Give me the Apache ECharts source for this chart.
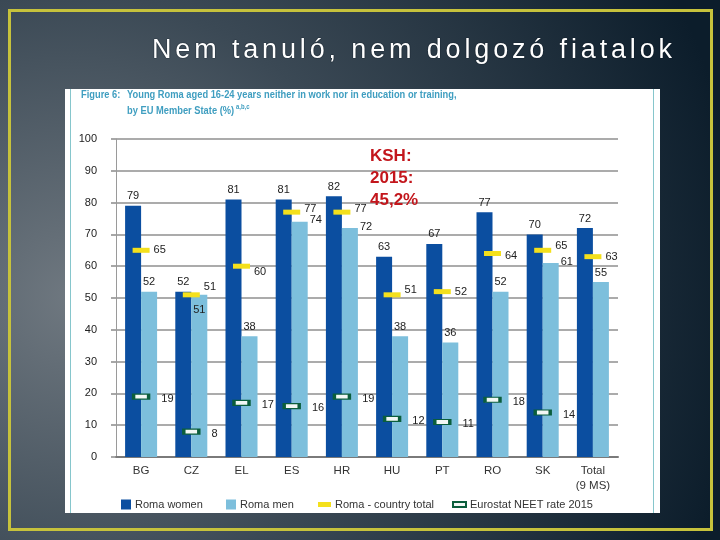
<!DOCTYPE html>
<html>
<head>
<meta charset="utf-8">
<script src="https://cdn.jsdelivr.net/npm/echarts@6/dist/echarts.min.js"></script>
<style>
html,body{margin:0;padding:0;background:#1a2a38;}
#wrap{position:relative;width:720px;height:540px;}
#chart{position:absolute;left:0;top:0;width:720px;height:540px;}
#title{position:absolute;left:0;top:29px;width:720px;height:40px;line-height:40px;white-space:nowrap;
  font-family:'Liberation Sans', Arial, sans-serif;font-size:27px;color:#ffffff;
  text-shadow:0 0 1px #0b1620, 0 0 1px #0b1620;}
</style>
</head>
<body>
<div id="wrap">
<div id="chart"></div>
<div id="title"></div>
</div>
<script>
// ---- data ----
const categories = ['BG', 'CZ', 'EL', 'ES', 'HR', 'HU', 'PT', 'RO', 'SK', 'Total\n(9 MS)'];
const romaWomen = [79, 52, 81, 81, 82, 63, 67, 77, 70, 72];
const romaMen = [52, 51, 38, 74, 72, 38, 36, 52, 61, 55];
const romaCountryTotal = [65, 51, 60, 77, 77, 51, 52, 64, 65, 63];
const eurostatNeet2015 = [19, 8, 17, 16, 19, 12, 11, 18, 14, null];
const seriesNames = ['Roma women', 'Roma men', 'Roma - country total', 'Eurostat NEET rate 2015'];
const slideTitle = 'Nem tanuló, nem dolgozó fiatalok';
const figureLabel = 'Figure 6:';
const figureTitle1 = 'Young Roma aged 16-24 years neither in work nor in education or training,';
const figureTitle2 = 'by EU Member State (%)';
const figureNote = 'a,b,c';
const kshNote = 'KSH:\n2015:\n45,2%';

// ---- label layout tweaks (style only) ----
const menLabelPos = {1: 'insideCZ', 3: 'rightTop', 4: 'rightTop', 8: 'rightTop'};
const totalLabelShift = {1: -8, 2: 6, 3: -3, 4: -3, 5: -5, 7: 2, 8: -4};

// slide title (real text, spaced to the reference width)
const titleEl = document.getElementById('title');
titleEl.textContent = slideTitle;
(function fitTitle() {
  const targetLeft = 152, targetWidth = 524;
  const span = document.createElement('span');
  span.textContent = slideTitle;
  span.style.font = getComputedStyle(titleEl).font;
  span.style.position = 'absolute'; span.style.visibility = 'hidden'; span.style.whiteSpace = 'nowrap';
  document.body.appendChild(span);
  const w = span.getBoundingClientRect().width;
  document.body.removeChild(span);
  const ls = Math.max(0, (targetWidth - w) / slideTitle.length);
  titleEl.style.letterSpacing = ls.toFixed(2) + 'px';
  titleEl.style.paddingLeft = targetLeft + 'px';
  titleEl.style.width = 'auto';
})();

const SANS = "'Liberation Sans', Arial, sans-serif";
const txt = '#222';
const CAP = '#3f9ec0';
const capFont = "bold 11.5px " + SANS;

const chart = echarts.init(document.getElementById('chart'), null, {renderer: 'canvas'});

function menData() {
  return romaMen.map((v, i) => {
    const k = menLabelPos[i];
    if (k === 'rightTop') return {value: v, label: {position: [18, -7]}};
    if (k === 'insideCZ') return {value: v, label: {position: 'insideTop', distance: 10}};
    return v;
  });
}
function totalData() {
  return romaCountryTotal.map((v, i) => totalLabelShift[i] !== undefined
    ? {value: v, label: {offset: [0, totalLabelShift[i]]}} : v);
}

const option = {
  backgroundColor: 'transparent',
  animation: false,
  textStyle: {fontFamily: SANS},
  graphic: [
    {type: 'rect', z: -20, shape: {x: 0, y: 0, width: 720, height: 540},
      style: {fill: {type: 'radial', x: 0.1, y: 0.55, r: 1.25,
        colorStops: [{offset: 0, color: '#6f7880'}, {offset: 0.45, color: '#3b4955'}, {offset: 1, color: '#0c1d2b'}]}}},
    {type: 'rect', z: -19, shape: {x: 9.5, y: 10.5, width: 702, height: 519},
      style: {fill: 'none', stroke: '#c6c23c', lineWidth: 3}},
    {type: 'rect', z: -18, shape: {x: 65, y: 89, width: 595, height: 424}, style: {fill: '#ffffff'}},
    {type: 'line', z: -17, shape: {x1: 70.5, y1: 89, x2: 70.5, y2: 513}, style: {stroke: '#86c6cc', lineWidth: 1}},
    {type: 'line', z: -17, shape: {x1: 653.5, y1: 89, x2: 653.5, y2: 513}, style: {stroke: '#86c6cc', lineWidth: 1}},
    {type: 'text', z: 5, x: 81, y: 95, scaleX: 0.81,
      style: {text: figureLabel, fill: CAP, font: capFont, verticalAlign: 'middle'}},
    {type: 'text', z: 5, x: 127, y: 95, scaleX: 0.81,
      style: {text: figureTitle1, fill: CAP, font: capFont, verticalAlign: 'middle'}},
    {type: 'text', z: 5, x: 127, y: 111, scaleX: 0.81,
      style: {text: figureTitle2, fill: CAP, font: capFont, verticalAlign: 'middle'}},
    {type: 'text', z: 5, x: 236, y: 107, scaleX: 0.85,
      style: {text: figureNote, fill: CAP, font: "bold 7px " + SANS, verticalAlign: 'middle'}},
    {type: 'text', z: 5, x: 370, y: 145,
      style: {text: kshNote, fill: '#c3161c', font: "bold 17px " + SANS, lineHeight: 22, verticalAlign: 'top'}}
  ],
  legend: [0, 1, 2, 3].map((i) => ({
    data: [seriesNames[i]],
    left: [121, 226, 318, 452][i],
    top: 499,
    itemWidth: i < 2 ? 10 : 13,
    itemHeight: i < 2 ? 10 : 5,
    itemGap: 0,
    icon: 'rect',
    padding: 0,
    textStyle: {fontSize: 11, color: '#333', fontFamily: SANS, padding: [0, 0, 0, -1]}
  })),
  grid: {left: 116, right: 102, top: 139, bottom: 83, containLabel: false},
  xAxis: {
    type: 'category',
    data: categories,
    axisLine: {show: true, lineStyle: {color: '#7a7a7a', width: 2}},
    axisTick: {show: false},
    axisLabel: {color: '#333', fontSize: 11.5, margin: 6, lineHeight: 15, fontFamily: SANS}
  },
  yAxis: {
    type: 'value',
    min: 0, max: 100, interval: 10,
    axisLine: {show: true, lineStyle: {color: '#9a9a9a', width: 1}},
    axisTick: {show: true, length: 5, lineStyle: {color: '#8a8a8a', width: 1.5}},
    splitLine: {show: true, lineStyle: {color: '#8f8f8f', width: 1.5}},
    axisLabel: {color: '#222', fontSize: 11, margin: 19, fontFamily: SANS}
  },
  series: [
    {name: seriesNames[0], type: 'bar', data: romaWomen, barWidth: 16, barGap: '0%',
      itemStyle: {color: '#0b4ea0'},
      label: {show: true, position: 'top', distance: 4, color: txt, fontSize: 11, fontFamily: SANS}},
    {name: seriesNames[1], type: 'bar', data: menData(), barWidth: 16, barGap: '0%',
      itemStyle: {color: '#7dbfdc'},
      label: {show: true, position: 'top', distance: 4, color: txt, fontSize: 11, fontFamily: SANS}},
    {name: seriesNames[2], type: 'scatter', data: totalData(), symbol: 'rect', symbolSize: [17, 5], z: 5,
      itemStyle: {color: '#f4e01c', opacity: 1},
      label: {show: true, position: 'right', distance: 4, color: txt, fontSize: 11, fontFamily: SANS}},
    {name: seriesNames[3], type: 'scatter', data: eurostatNeet2015.map(v => v === null ? '-' : v),
      symbol: 'rect', symbolSize: [15, 5], z: 5,
      itemStyle: {color: '#f2f8f5', borderColor: '#0b5e3c', borderWidth: 2, opacity: 1},
      label: {show: true, position: 'right', distance: 11, offset: [0, 2], color: txt, fontSize: 11, fontFamily: SANS}}
  ]
};
chart.setOption(option);
</script>
</body>
</html>
